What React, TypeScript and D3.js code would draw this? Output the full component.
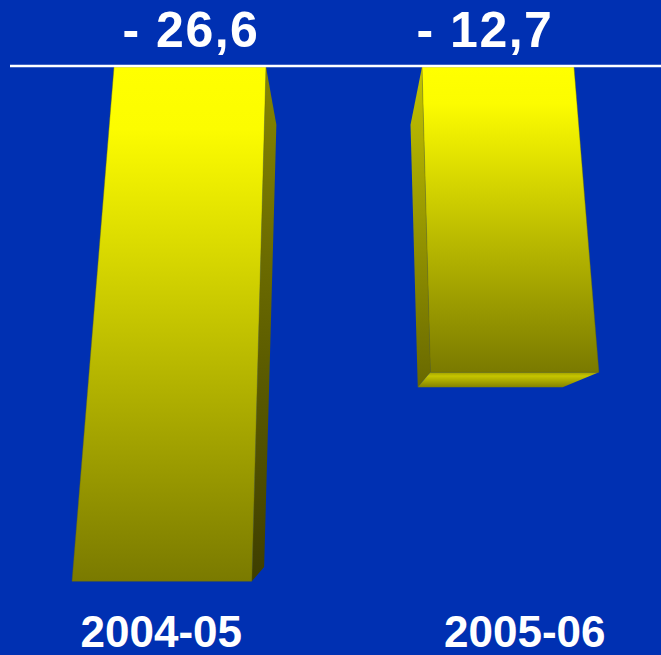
import React from "react";
import * as d3 from "d3";

const categories = ["2004-05", "2005-06"];
const values = [-26.6, -12.7];
const valueLabels = ["- 26,6", "- 12,7"];

const W = 661;
const H = 655;
const BASE_Y = 67;
const BAR_W = 152;
// front-plane vanishing point (chart plane tilted back) and depth vanishing point
const VF: [number, number] = [344, -2753];
const VD: [number, number] = [340, 480];
const DEPTH = 0.14;

const xCenter = d3.scalePoint<string>().domain(categories).range([190, 498]);
// truncated value axis (bars hang from the baseline line)
const yScale = d3.scaleLinear().domain([7.6, -30]).range([BASE_Y, 632.4]);

type P = [number, number];
const projX = (x0: number, y: number) => VF[0] + (x0 - VF[0]) * (y - VF[1]) / (BASE_Y - VF[1]);
const back = (p: P): P => [p[0] + DEPTH * (VD[0] - p[0]), p[1] + DEPTH * (VD[1] - p[1])];
const line = d3.line<P>();
const poly = (pts: P[]) => line(pts) + "Z";

export default function App() {
  const bars = categories.map((c, i) => {
    const cx = xCenter(c) as number;
    const x0 = cx - BAR_W / 2;
    const x1 = cx + BAR_W / 2;
    const yb = yScale(values[i]);
    const tl: P = [x0, BASE_Y];
    const tr: P = [x1, BASE_Y];
    const bl: P = [projX(x0, yb), yb];
    const br: P = [projX(x1, yb), yb];
    return { c, i, tl, tr, bl, br, yb, cx };
  });

  return (
    <svg
      width={W}
      height={H}
      style={{ position: "absolute", left: 0, top: 0, display: "block" }}
      fontFamily="'Liberation Sans', Arial, sans-serif"
    >
      <defs>
        <linearGradient id="front" x1="0" y1="0" x2="0" y2="1">
          <stop offset="0" stopColor="#ffff00" />
          <stop offset="0.12" stopColor="#fcfc00" />
          <stop offset="1" stopColor="#7a7a00" />
        </linearGradient>
        <linearGradient id="sideR" x1="0" y1="0" x2="0" y2="1">
          <stop offset="0" stopColor="#868600" />
          <stop offset="1" stopColor="#3e3e00" />
        </linearGradient>
        <linearGradient id="sideL" x1="0" y1="0" x2="0" y2="1">
          <stop offset="0" stopColor="#c4c400" />
          <stop offset="1" stopColor="#686800" />
        </linearGradient>
        <linearGradient id="bottom" x1="0" y1="0" x2="0" y2="1">
          <stop offset="0" stopColor="#a0a000" />
          <stop offset="0.25" stopColor="#c6c600" />
          <stop offset="1" stopColor="#828200" />
        </linearGradient>
      </defs>
      <rect x={0} y={0} width={W} height={H} fill="#0030b2" />
      {bars.map((b) => {
        const btl = back(b.tl), btr = back(b.tr), bbl = back(b.bl), bbr = back(b.br);
        const faces: React.ReactNode[] = [];
        if (b.br[0] < VD[0]) {
          faces.push(<path key="r" d={poly([b.tr, btr, bbr, b.br])} fill="url(#sideR)" />);
        }
        if (b.bl[0] > VD[0]) {
          faces.push(<path key="l" d={poly([b.tl, btl, bbl, b.bl])} fill="url(#sideL)" />);
        }
        if (b.yb < VD[1]) {
          faces.push(<path key="b" d={poly([b.bl, b.br, bbr, bbl])} fill="url(#bottom)" />);
        }
        return (
          <g key={b.c}>
            {faces}
            <path d={poly([b.tl, b.tr, b.br, b.bl])} fill="url(#front)" stroke="#6a6a00" strokeWidth={0.4} />
          </g>
        );
      })}
      <line x1={10} x2={W} y1={66} y2={66} stroke="#ffffff" strokeWidth={2.5} />
      {bars.map((b) => (
        <text
          key={"v" + b.c}
          x={b.cx - (b.i === 1 ? 14 : 0) + 1}
          y={47}
          textAnchor="middle"
          fill="#ffffff"
          fontWeight="bold"
          fontSize={50}
          letterSpacing={1.5}
        >
          {valueLabels[b.i]}
        </text>
      ))}
      {bars.map((b) => (
        <text
          key={"c" + b.c}
          x={projX(b.cx, 630) - (b.i === 0 ? -2 : 4)}
          y={647}
          textAnchor="middle"
          fill="#ffffff"
          fontWeight="bold"
          fontSize={44}
        >
          {b.c}
        </text>
      ))}
    </svg>
  );
}
